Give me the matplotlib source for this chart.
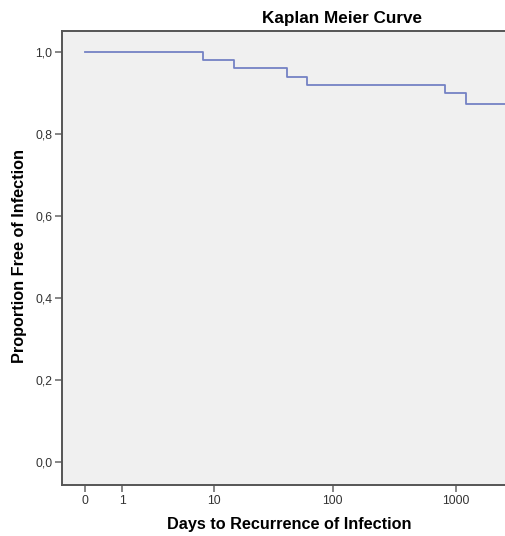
import numpy as np
import matplotlib
matplotlib.use("Agg")
import matplotlib.pyplot as plt

# Kaplan Meier estimate
days = [0, 8, 15, 42, 62, 821, 1216, 2600]
surv = [1.0, 0.98, 0.96, 0.94, 0.92, 0.90, 0.873, 0.873]

xticks = [0, 1, 10, 100, 1000]
yticks = [0.0, 0.2, 0.4, 0.6, 0.8, 1.0]
ylabels = ["0,0", "0,2", "0,4", "0,6", "0,8", "1,0"]

plt.rcParams["font.family"] = ["Liberation Sans", "DejaVu Sans"]

fig = plt.figure(figsize=(5.06, 5.36), dpi=100)
ax = fig.add_axes([0.1225, 0.0951, 0.8775, 0.847])
ax.set_facecolor("#f0f0f0")

# x axis is log10(days + 1), so day 0 can be shown
ax.set_xscale("function", functions=(lambda x: np.log10(np.clip(x + 1, 1e-9, None)),
                                     lambda u: 10 ** u - 1))
ax.step(days, surv, where="post", color="#7482c4", linewidth=1.3)

ax.set_xlim(-0.348, 2563)
ax.set_ylim(-0.056, 1.051)
ax.set_xticks(xticks)
ax.set_xticklabels([str(t) for t in xticks])
ax.minorticks_off()
ax.set_yticks(yticks)
ax.set_yticklabels(ylabels)
ax.tick_params(direction="out", length=5, width=1.1, color="#666666",
               labelsize=8.8, labelcolor="#333333", pad=2)

for side in ["top", "left", "bottom"]:
    ax.spines[side].set_color("#555555")
    ax.spines[side].set_linewidth(1.4)
ax.spines["right"].set_visible(False)

fig.text(342 / 506, 1 - 19 / 536, "Kaplan Meier Curve", ha="center", va="center",
         fontsize=12.3, fontweight="bold")
fig.text(289 / 506, 1 - 525 / 536, "Days to Recurrence of Infection", ha="center",
         va="center", fontsize=11.7, fontweight="bold")
fig.text(20 / 506, 1 - 256 / 536, "Proportion Free of Infection", ha="center",
         va="center", rotation=90, fontsize=11.7, fontweight="bold")

fig.savefig("out.png", dpi=100)
